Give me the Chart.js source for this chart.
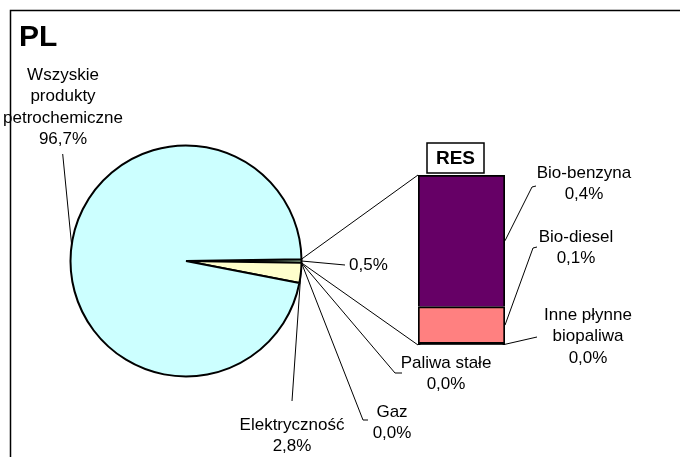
<!DOCTYPE html>
<html lang="pl">
<head>
<meta charset="utf-8">
<title>PL</title>
<script src="https://cdn.jsdelivr.net/npm/chart.js@4.4.1/dist/chart.umd.min.js"></script>
<style>
  body { margin: 0; background: #fff; }
  #wrap { position: relative; width: 680px; height: 457px; overflow: hidden; }
  #res { position: absolute; left: 408px; top: 165px; z-index: 1; }
  #pie { position: absolute; left: 0; top: 0; z-index: 2; }
</style>
</head>
<body>
<div id="wrap">
  <canvas id="res" width="107" height="190"></canvas>
  <canvas id="pie" width="680" height="457"></canvas>
</div>
<script>
// main pie categories, % of total
var pieLabels = [['Wszyskie', 'produkty', 'petrochemiczne'], ['Elektryczność'], ['Gaz'], ['Paliwa stałe']];
var pieValues = [96.7, 2.8, 0.0, 0.0];
var pieColors = ['#CCFFFF', '#FFFFCC', '#99CCFF', '#FFCC99'];

// RES part, split out in the bar
var resLabels = [['Bio-benzyna'], ['Bio-diesel'], ['Inne płynne', 'biopaliwa']];
var resValues = [0.39, 0.11, 0.004];
var resColors = ['#660066', '#FF8080', '#000000'];
var resSliceColor = '#CCFFCC';

// clockwise order after the RES slice
var pieOrder = [2, 3, 1, 0];

var FONT = '17px "Liberation Sans", Arial, sans-serif';
var LINE_H = 21.5;
var BAR_LEFT = 408, BAR_TOP = 165;

function pct(v) { return v.toFixed(1).replace('.', ',') + '%'; }

var resSum = resValues.reduce(function (a, b) { return a + b; }, 0);
var total = resSum + pieValues.reduce(function (a, b) { return a + b; }, 0);

// label layout (text centre x, first line y, leader line points after the anchor)
var pieLabelPos = [
  { cx: 63, y: 75, angle: 188, pts: [[62.7, 154]] },
  { cx: 292, y: 425, pts: [[292, 401]] },
  { cx: 392, y: 412, pts: [[363, 420], [368, 420]] },
  { cx: 446, y: 363, pts: [[395, 373], [402, 373]] }
];
var resLabelPos = [
  { cx: 584, y: 173, pts: [[532, 187], [536, 186]] },
  { cx: 576, y: 237, pts: [[533, 248], [537, 247]] },
  { cx: 588, y: 315, pts: [[537, 337]] }
];

// ---- bar (RES split) ----
var barDatasets = [];
for (var i = resValues.length - 1; i >= 0; i--) {
  barDatasets.push({
    label: resLabels[i].join(' '),
    data: [resValues[i]],
    backgroundColor: resColors[i],
    borderColor: '#000',
    borderWidth: 2,
    borderSkipped: i === 0 ? 'bottom' : false,
    barPercentage: 1,
    categoryPercentage: 1
  });
}

var barChart = new Chart(document.getElementById('res'), {
  type: 'bar',
  data: { labels: ['RES'], datasets: barDatasets },
  options: {
    responsive: false,
    animation: false,
    devicePixelRatio: 1,
    events: [],
    layout: { padding: 10 },
    scales: {
      x: { stacked: true, display: false },
      y: { stacked: true, display: false, min: 0, max: resSum }
    },
    plugins: { legend: { display: false }, tooltip: { enabled: false } }
  }
});

function barEl(i) {
  var el = barChart.getDatasetMeta(resValues.length - 1 - i).data[0];
  return {
    left: BAR_LEFT + el.x - el.width / 2,
    right: BAR_LEFT + el.x + el.width / 2,
    top: BAR_TOP + el.y,
    bottom: BAR_TOP + el.base
  };
}

// ---- pie ----
var pieData = [resSum], pieBg = [resSliceColor];
pieOrder.forEach(function (k) { pieData.push(pieValues[k]); pieBg.push(pieColors[k]); });

function drawText(ctx, lines, cx, y) {
  lines.forEach(function (t, j) { ctx.fillText(t, cx, y + j * LINE_H); });
}

function polyline(ctx, p0, pts) {
  ctx.beginPath();
  ctx.moveTo(p0[0], p0[1]);
  pts.forEach(function (p) { ctx.lineTo(p[0], p[1]); });
  ctx.stroke();
}

function edge(arc, ang) {
  return [arc.x + arc.outerRadius * Math.cos(ang), arc.y + arc.outerRadius * Math.sin(ang)];
}

var annotations = {
  id: 'annotations',
  afterDraw: function (chart) {
    var ctx = chart.ctx;
    var arcs = chart.getDatasetMeta(0).data;
    ctx.save();

    // frame
    ctx.strokeStyle = '#000';
    ctx.lineWidth = 1.5;
    ctx.strokeRect(10.5, 10.5, 700, 500);

    ctx.fillStyle = '#000';
    ctx.textBaseline = 'middle';
    ctx.font = 'bold 30px "Liberation Sans", Arial, sans-serif';
    ctx.textAlign = 'left';
    ctx.fillText('PL', 19, 38);

    ctx.lineWidth = 1;
    ctx.font = FONT;
    ctx.textAlign = 'center';

    // connectors pie -> bar
    var rs = arcs[0];
    var top = barEl(0), bottom = barEl(resValues.length - 1);
    polyline(ctx, edge(rs, rs.startAngle), [[top.left, top.top]]);
    polyline(ctx, edge(rs, rs.endAngle), [[bottom.left, bottom.bottom]]);

    // RES slice value
    polyline(ctx, edge(rs, (rs.startAngle + rs.endAngle) / 2), [[345, 265]]);
    ctx.textAlign = 'left';
    ctx.fillText(pct(resSum), 349, 265);
    ctx.textAlign = 'center';

    // pie labels
    pieOrder.forEach(function (k, j) {
      var arc = arcs[j + 1];
      var pos = pieLabelPos[k];
      var ang = pos.angle !== undefined ? pos.angle * Math.PI / 180
        : (pieValues[k] === 0 ? arc.startAngle : (arc.startAngle + arc.endAngle) / 2);
      polyline(ctx, edge(arc, ang), pos.pts);
      drawText(ctx, pieLabels[k].concat([pct(pieValues[k])]), pos.cx, pos.y);
    });

    // bar labels
    resValues.forEach(function (v, i) {
      var b = barEl(i);
      var pos = resLabelPos[i];
      polyline(ctx, [b.right, (b.top + b.bottom) / 2], pos.pts);
      drawText(ctx, resLabels[i].concat([pct(v)]), pos.cx, pos.y);
    });

    // RES caption box
    ctx.fillStyle = '#fff';
    ctx.fillRect(427, 143, 57, 30);
    ctx.lineWidth = 1.5;
    ctx.strokeRect(427, 143, 57, 30);
    ctx.fillStyle = '#000';
    ctx.font = 'bold 19px "Liberation Sans", Arial, sans-serif';
    ctx.fillText('RES', 455.5, 159);

    ctx.restore();
  }
};

var pieChart = new Chart(document.getElementById('pie'), {
  type: 'pie',
  data: {
    labels: ['RES'].concat(pieOrder.map(function (k) { return pieLabels[k].join(' '); })),
    datasets: [{
      data: pieData,
      backgroundColor: pieBg,
      borderColor: '#000',
      borderWidth: 2
    }]
  },
  options: {
    responsive: false,
    animation: false,
    devicePixelRatio: 1,
    events: [],
    radius: 115.5,
    rotation: 90 - (resSum / total * 360) / 2,
    layout: { padding: { left: 70, top: 145, right: 378, bottom: 80 } },
    plugins: { legend: { display: false }, tooltip: { enabled: false } }
  },
  plugins: [annotations]
});
</script>
</body>
</html>
